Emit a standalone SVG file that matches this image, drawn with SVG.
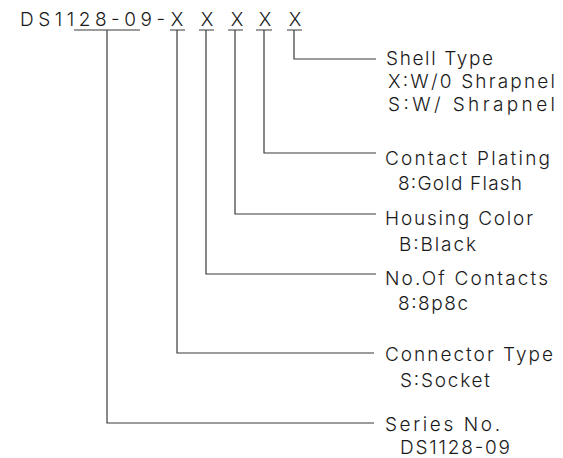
<svg xmlns="http://www.w3.org/2000/svg" width="563" height="458" viewBox="0 0 563 458">
<style>
  text { font-family: "Inter", "Liberation Sans", "DejaVu Sans", sans-serif; font-weight: 300; font-size: 19px; fill: #1a1a1a; }
  .ln { stroke: #3a3a3a; stroke-width: 1.2; fill: none; }
</style>
<rect width="563" height="458" fill="#ffffff"/>
<g id="part-number">
  <text x="20" y="26" textLength="145" lengthAdjust="spacing">DS1128-09-</text>
  <text y="26" text-anchor="middle"><tspan x="177">X</tspan><tspan x="207">X</tspan><tspan x="237">X</tspan><tspan x="265">X</tspan><tspan x="295">X</tspan></text>
</g>
<g id="connectors">
  <path class="ln" d="M74 30H140M107 30V423H374"/>
  <path class="ln" d="M170 30H185M177 30V353H374"/>
  <path class="ln" d="M199 30H214M206 30V274H376"/>
  <path class="ln" d="M228 30H243M235 30V214H376"/>
  <path class="ln" d="M256 30H272M264 30V153H376"/>
  <path class="ln" d="M287 30H302M294 30V59H376"/>
</g>
<g id="shell-type">
  <text x="386" y="65" textLength="107" lengthAdjust="spacing">Shell Type</text>
  <text x="388" y="88" textLength="167" lengthAdjust="spacing">X:W/0 Shrapnel</text>
  <text x="388" y="111" textLength="167" lengthAdjust="spacing">S:W/ Shrapnel</text>
</g>
<g id="contact-plating">
  <text x="385" y="165" textLength="165" lengthAdjust="spacing">Contact Plating</text>
  <text x="398" y="190" textLength="124" lengthAdjust="spacing">8:Gold Flash</text>
</g>
<g id="housing-color">
  <text x="385" y="225" textLength="148" lengthAdjust="spacing">Housing Color</text>
  <text x="399" y="251" textLength="77" lengthAdjust="spacing">B:Black</text>
</g>
<g id="no-of-contacts">
  <text x="385" y="285" textLength="163" lengthAdjust="spacing">No.Of Contacts</text>
  <text x="398" y="310" textLength="70" lengthAdjust="spacing">8:8p8c</text>
</g>
<g id="connector-type">
  <text x="385" y="361" textLength="168" lengthAdjust="spacing">Connector Type</text>
  <text x="400" y="387" textLength="90" lengthAdjust="spacing">S:Socket</text>
</g>
<g id="series-no">
  <text x="385" y="431" textLength="115" lengthAdjust="spacing">Series No.</text>
  <text x="400" y="454" textLength="110" lengthAdjust="spacing">DS1128-09</text>
</g>
</svg>
